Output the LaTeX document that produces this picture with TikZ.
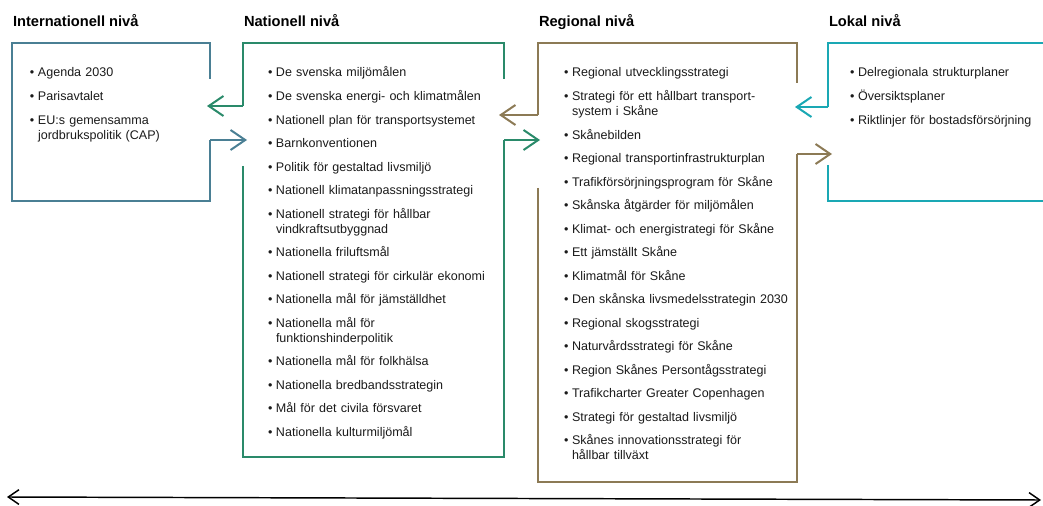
\documentclass[tikz,border=0pt]{standalone}
\usepackage{fontspec}
\setmainfont{Liberation Sans}
\usetikzlibrary{arrows.meta}

\definecolor{intblue}{HTML}{4A7F94}
\definecolor{natgreen}{HTML}{2A8A6A}
\definecolor{regbrown}{HTML}{8C7A55}
\definecolor{lokteal}{HTML}{1AA8B4}
\definecolor{brodtext}{HTML}{1A1A1A}

\newlength{\bulw}
\setlength{\bulw}{0.6em}
\newcommand{\nyrad}{\hfil\break}
\newcommand{\punkt}[1]{\par\hangindent=\bulw\hangafter=1\noindent
  \hbox to\bulw{\textbullet\hfil}#1\par\vspace{6.4pt}}

\begin{document}
\begin{tikzpicture}[x=0.75pt, y=-0.75pt,
  >={Straight Barb[length=11pt, width=15pt]}, line width=1.5pt,
  rubrik/.style={anchor=base west, inner sep=0pt,
                 font=\bfseries\fontsize{11}{13}\selectfont},
  lista/.style={anchor=base west, inner sep=0pt, text width=#1,
                text=brodtext, font=\fontsize{9.4}{11.25}\selectfont},
  lista/.default=200pt]

  \useasboundingbox (0,0) rectangle (1043,506);

  % rubriker
  \node[rubrik] (int-rub) at (12,27)  {Internationell nivå};
  \node[rubrik] (nat-rub) at (243,27) {Nationell nivå};
  \node[rubrik] (reg-rub) at (538,27) {Regional nivå};
  \node[rubrik] (lok-rub) at (828,27) {Lokal nivå};

  % ramar
  \draw[intblue]  (210,79) |- (12,43) |- (210,201) -- (210,140) coordinate (int-ut);
  \draw[natgreen] (504,79) |- (243,43) -- (243,106) coordinate (nat-ut);
  \draw[natgreen] (243,166) |- (504,457) -- (504,140) coordinate (nat-upp);
  \draw[regbrown] (797,83) |- (538,43) -- (538,115) coordinate (reg-ut);
  \draw[regbrown] (538,188) |- (797,482) -- (797,154) coordinate (reg-upp);
  \draw[lokteal]  (1043,43) -| (828,107) coordinate (lok-ut);
  \draw[lokteal]  (828,165) |- (1043,201);

  \coordinate (nat-in) at (247,140);
  \coordinate (int-in) at (207,106);
  \coordinate (reg-in) at (540,140);
  \coordinate (nat-in2) at (499,115);
  \coordinate (lok-in) at (832,154);
  \coordinate (reg-in2) at (795,107);

  % pilar mellan nivåerna
  \draw[intblue, ->]  (int-ut) -- (nat-in);
  \draw[natgreen, ->] (nat-ut) -- (int-in);
  \draw[natgreen, ->] (nat-upp) -- (reg-in);
  \draw[regbrown, ->] (reg-ut) -- (nat-in2);
  \draw[regbrown, ->] (reg-upp) -- (lok-in);
  \draw[lokteal, ->]  (lok-ut) -- (reg-in2);

  % listor
  \node[lista=170pt] (int-lista) at (29,62) {%
    \punkt{Agenda 2030}
    \punkt{Parisavtalet}
    \punkt{EU:s gemensamma\nyrad jordbrukspolitik (CAP)}};

  \node[lista] (nat-lista) at (267,62) {%
    \punkt{De svenska miljömålen}
    \punkt{De svenska energi- och klimatmålen}
    \punkt{Nationell plan för transportsystemet}
    \punkt{Barnkonventionen}
    \punkt{Politik för gestaltad livsmiljö}
    \punkt{Nationell klimatanpassningsstrategi}
    \punkt{Nationell strategi för hållbar\nyrad vindkraftsutbyggnad}
    \punkt{Nationella friluftsmål}
    \punkt{Nationell strategi för cirkulär ekonomi}
    \punkt{Nationella mål för jämställdhet}
    \punkt{Nationella mål för\nyrad funktionshinderpolitik}
    \punkt{Nationella mål för folkhälsa}
    \punkt{Nationella bredbandsstrategin}
    \punkt{Mål för det civila försvaret}
    \punkt{Nationella kulturmiljömål}};

  \node[lista] (reg-lista) at (563,62) {%
    \punkt{Regional utvecklingsstrategi}
    \punkt{Strategi för ett hållbart transport-\nyrad system i Skåne}
    \punkt{Skånebilden}
    \punkt{Regional transportinfrastrukturplan}
    \punkt{Trafikförsörjningsprogram för Skåne}
    \punkt{Skånska åtgärder för miljömålen}
    \punkt{Klimat- och energistrategi för Skåne}
    \punkt{Ett jämställt Skåne}
    \punkt{Klimatmål för Skåne}
    \punkt{Den skånska livsmedelsstrategin 2030}
    \punkt{Regional skogsstrategi}
    \punkt{Naturvårdsstrategi för Skåne}
    \punkt{Region Skånes Persontågsstrategi}
    \punkt{Trafikcharter Greater Copenhagen}
    \punkt{Strategi för gestaltad livsmiljö}
    \punkt{Skånes innovationsstrategi för\nyrad hållbar tillväxt}};

  \node[lista=160pt] (lok-lista) at (849,62) {%
    \punkt{Delregionala strukturplaner}
    \punkt{Översiktsplaner}
    \punkt{Riktlinjer för bostadsförsörjning}};

  % tidsaxel
  \coordinate (axel-v) at (7,497);
  \coordinate (axel-h) at (1041,500);
  \draw[line width=1.1pt, {Straight Barb[length=8pt, width=11pt]}-{Straight Barb[length=8pt, width=11pt]}]
    (axel-v) -- (axel-h);
\end{tikzpicture}
\end{document}
